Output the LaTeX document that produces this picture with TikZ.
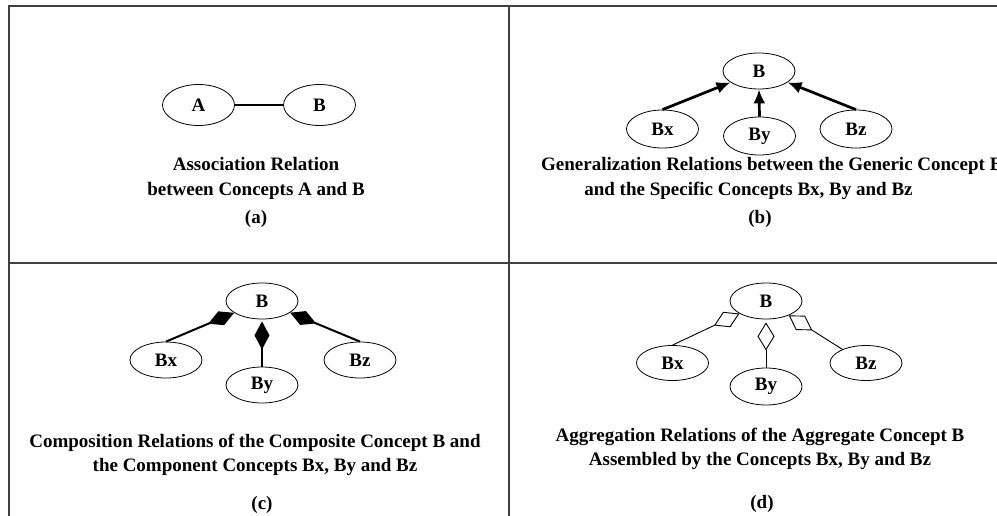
\documentclass[tikz,border=0pt]{standalone}
\usepackage{fontspec}
\setmainfont{Liberation Serif}
\usetikzlibrary{shapes.geometric,arrows.meta}
\begin{document}
\begin{tikzpicture}[x=1pt,y=-1pt,
  concept/.style={ellipse,draw=black,line width=0.8pt,minimum width=72pt,minimum height=36pt,inner sep=0pt,font=\fontsize{19}{22}\selectfont\bfseries},
  caption/.style={font=\fontsize{19}{22}\selectfont\bfseries,anchor=base,inner sep=0pt},
  frameline/.style={draw=black!75,line width=2pt},
  assoc/.style={line width=2pt},
  gen/.style={line width=2.7pt,-{Latex[length=14pt,width=12pt]}},
  comp/.style={line width=2pt,-{Diamond[length=28pt,width=15pt]}},
  aggr/.style={line width=0.9pt,-{Diamond[open,length=28pt,width=17pt]}},
]
\useasboundingbox (0,0) rectangle (997,516);
% frame
\draw[frameline] (9,516) -- (9,6.5) -- (997,6.5);
\draw[frameline] (508.7,6.5) -- (508.7,516);
\draw[frameline] (9,263) -- (997,263);

% (a)
\node[concept,minimum height=41pt] (aA) at (198.5,105) {A};
\node[concept,minimum height=41pt] (aB) at (319.5,105) {B};
\draw[assoc] (aA) -- (aB);
\node[caption] (acap1) at (256,171) {Association Relation};
\node[caption] (acap2) at (256,196) {between Concepts A and B};
\node[caption] (acap3) at (256,223) {(a)};

% (b)
\node[concept] (bB) at (759,71) {B};
\node[concept,minimum height=38pt] (bBx) at (662.5,129) {Bx};
\node[concept,minimum height=38pt] (bBy) at (759.5,136) {By};
\node[concept,minimum height=38pt] (bBz) at (856,129) {Bz};
\draw[gen] (bBx.north) -- (bB);
\draw[gen] (bBy.north) -- (bB.south);
\draw[gen] (bBz.north) -- (bB);
\node[caption,anchor=base west] (bcap1) at (541,171) {Generalization Relations between the Generic Concept B};
\node[caption] (bcap2) at (748.5,196) {and the Specific Concepts Bx, By and Bz};
\node[caption] (bcap3) at (760,223) {(b)};

% (c)
\node[concept] (cB) at (262,301) {B};
\node[concept,minimum height=36pt] (cBx) at (166,360) {Bx};
\node[concept,minimum height=36pt] (cBy) at (262,385) {By};
\node[concept,minimum height=36pt] (cBz) at (360,360) {Bz};
\draw[comp] (cBx.north) -- (cB);
\draw[comp,shorten >=2pt] (cBy.north) -- (cB.south);
\draw[comp] (cBz.north) -- (cB);
\node[caption] (ccap1) at (255,447) {Composition Relations of the Composite Concept B and};
\node[caption] (ccap2) at (255,471) {the Component Concepts Bx, By and Bz};
\node[caption] (ccap3) at (262,509) {(c)};

% (d)
\node[concept] (dB) at (766,301) {B};
\node[concept,minimum height=35pt] (dBx) at (672.5,363) {Bx};
\node[concept,minimum height=37pt] (dBy) at (766,386.5) {By};
\node[concept,minimum height=35pt] (dBz) at (866,363) {Bz};
\draw[aggr] (dBx.north) -- (dB);
\draw[aggr,shorten >=3pt] (dBy.north) -- (dB.south);
\draw[aggr] (dBz.150) -- (dB);
\node[caption] (dcap1) at (760,441) {Aggregation Relations of the Aggregate Concept B};
\node[caption] (dcap2) at (760,465) {Assembled by the Concepts Bx, By and Bz};
\node[caption] (dcap3) at (762,508) {(d)};
\end{tikzpicture}
\end{document}
